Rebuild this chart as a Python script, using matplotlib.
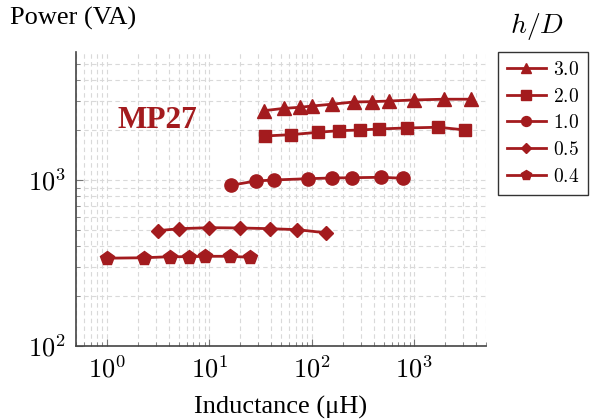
import numpy as np
import matplotlib.pyplot as plt
from matplotlib.ticker import LogLocator, NullFormatter, FuncFormatter

plt.rcParams['font.family'] = ['Liberation Serif', 'DejaVu Serif']
plt.rcParams['mathtext.fontset'] = 'cm'

red = '#A31B1E'

# h/D = 3.0
L_30 = [34, 53.5, 76, 101, 157, 256, 385, 572, 1000, 1950, 3600]
P_30 = [2614, 2700, 2740, 2790, 2860, 2950, 2963, 2990, 3035, 3065, 3065]
# h/D = 2.0
L_20 = [35, 63, 114, 186, 297, 457, 841, 1710, 3150]
P_20 = [1841, 1875, 1937, 1982, 2000, 2030, 2057, 2078, 2000]
# h/D = 1.0
L_10 = [16.2, 28.4, 42.8, 92, 157, 246, 475, 782]
P_10 = [929, 986, 1000, 1018, 1028, 1032, 1038, 1024]
# h/D = 0.5
L_05 = [3.15, 5.1, 10, 20, 38.8, 72, 136]
P_05 = [495, 509, 516, 514, 509, 502, 481]
# h/D = 0.4
L_04 = [1.0, 2.3, 4.1, 6.4, 9.0, 16, 25]
P_04 = [338, 340, 345, 345, 347, 347, 342]

series = [
    (L_30, P_30, '^', '3.0', 9.5),
    (L_20, P_20, 's', '2.0', 9),
    (L_10, P_10, 'o', '1.0', 9.5),
    (L_05, P_05, 'D', '0.5', 7),
    (L_04, P_04, 'p', '0.4', 10.5),
]

fig = plt.figure(figsize=(5.9, 4.2), dpi=100)
ax = fig.add_axes([76 / 590, 74 / 420, 410 / 590, 294 / 420])

for L, P, m, lab, ms in series:
    ax.plot(L, P, color=red, marker=m, markersize=ms, lw=2.0, label='$' + lab + '$')

ax.set_xscale('log')
ax.set_yscale('log')
ax.set_xlim(0.5, 5000)
ax.set_ylim(100, 5900)

pow_fmt = FuncFormatter(lambda v, pos: r'$10^{%d}$' % round(np.log10(v)))
ax.xaxis.set_major_locator(LogLocator(base=10, numticks=10))
ax.xaxis.set_minor_locator(LogLocator(base=10, subs=np.arange(2, 10), numticks=20))
ax.yaxis.set_minor_locator(LogLocator(base=10, subs=np.arange(2, 10), numticks=20))
ax.xaxis.set_major_formatter(pow_fmt)
ax.yaxis.set_major_formatter(pow_fmt)
ax.xaxis.set_minor_formatter(NullFormatter())
ax.yaxis.set_minor_formatter(NullFormatter())

ax.grid(True, which='both', color='#d9d9d9', ls=(0, (4, 3)), lw=0.8)
ax.set_axisbelow(True)

for s in ['top', 'right']:
    ax.spines[s].set_visible(False)
for s in ['left', 'bottom']:
    ax.spines[s].set_color('#444444')
    ax.spines[s].set_linewidth(1.2)

ax.tick_params(which='both', direction='in', top=False, right=False, color='#777777')
ax.tick_params(which='major', length=5, labelsize=19, pad=7)
ax.tick_params(which='minor', length=3)

fig.text(118 / 590, 1 - 121 / 420, 'MP27', color=red, fontsize=22.5,
         fontweight='bold', ha='left', va='center')

fig.text(10 / 590, 1 - 18 / 420, 'Power (VA)', fontsize=19, ha='left', va='center')
fig.text(281 / 590, 1 - 407 / 420, 'Inductance (\u03bcH)', fontsize=19, ha='center', va='center')

leg = ax.legend(loc='upper left', bbox_to_anchor=(498 / 590, 1 - 52 / 420),
                bbox_transform=fig.transFigure, frameon=True, fancybox=False,
                edgecolor='black', fontsize=14, handlelength=2.0, markerscale=0.75,
                borderpad=0.45, labelspacing=0.45, handletextpad=0.4,
                borderaxespad=0)
leg.get_frame().set_linewidth(1.0)
fig.text(537 / 590, 1 - 27 / 420, '$h/D$', fontsize=20, ha='center', va='center')

fig.savefig('out.png', dpi=100)
